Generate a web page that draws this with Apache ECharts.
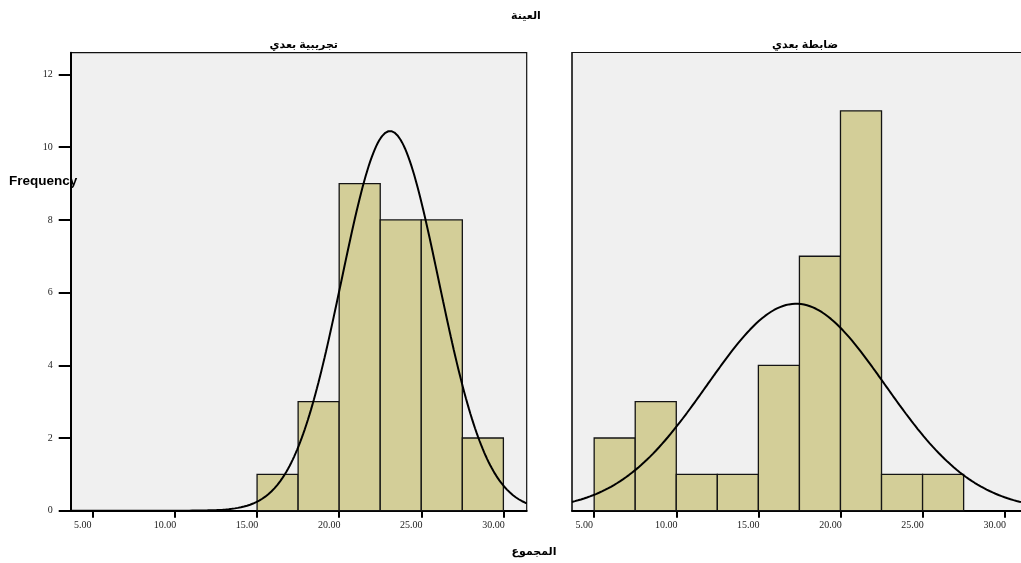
<!DOCTYPE html>
<html>
<head>
<meta charset="utf-8">
<style>
  html, body { margin: 0; padding: 0; background: #ffffff; }
  #chart { width: 1021px; height: 563px; }
</style>
<script src="https://cdn.jsdelivr.net/npm/echarts@6/dist/echarts.min.js"></script>
</head>
<body>
<div id="chart"></div>
<script>
// Histogram of المجموع for each group of العينة, with fitted normal curves.
var binWidth = 2.5;

// تجريبية بعدي
var expBinStarts = [15, 17.5, 20, 22.5, 25, 27.5];
var expCounts    = [1, 3, 9, 8, 8, 2];
var expMean = 23.1;
var expSd   = 2.96;

// ضابطة بعدي
var ctlBinStarts = [5, 7.5, 10, 12.5, 15, 17.5, 20, 22.5, 25];
var ctlCounts    = [2, 3, 1, 1, 4, 7, 11, 1, 1];
var ctlMean = 17.3;
var ctlSd   = 5.43;

var xTicks = [5, 10, 15, 20, 25, 30];
var yTicks = [0, 2, 4, 6, 8, 10, 12];
var xMin = 3.65, xMax = 31.42;
var yMax = 12.6;

var panelTitles = ['تجريبية بعدي', 'ضابطة بعدي'];
var mainTitle = 'العينة';
var xTitle = 'المجموع';
var yTitle = 'Frequency';

// Panel geometry: both panels share the same value range per pixel;
// the second panel runs off the right edge of the page.
var panelWidth = 456;
var pxPerUnit = panelWidth / (xMax - xMin);
var rightPanelLeft = 572;
var rightVisibleWidth = 1021 - rightPanelLeft;
var xMaxRight = xMin + rightVisibleWidth / pxPerUnit;

function sum(a) { return a.reduce(function (s, v) { return s + v; }, 0); }

// Normal density scaled to counts per bin over the visible range.
function normalCurve(mean, sd, n, hi) {
  var pts = [];
  var steps = 300;
  for (var i = 0; i <= steps; i++) {
    var x = xMin + (hi - xMin) * i / steps;
    var z = (x - mean) / sd;
    var y = n * binWidth / (sd * Math.sqrt(2 * Math.PI)) * Math.exp(-0.5 * z * z);
    pts.push([x, y]);
  }
  return pts;
}

function binData(starts, counts) {
  return starts.map(function (s, i) { return [s, s + binWidth, counts[i]]; });
}

function renderBin(params, api) {
  var tl = api.coord([api.value(0), api.value(2)]);
  var br = api.coord([api.value(1), 0]);
  return {
    type: 'rect',
    shape: { x: tl[0], y: tl[1], width: br[0] - tl[0], height: br[1] - tl[1] },
    style: { fill: '#d3ce98', stroke: '#141414', lineWidth: 1.3 }
  };
}

var serifFont = '"Liberation Serif", "Times New Roman", serif';
var boldSans = 'Arial, "Liberation Sans", "DejaVu Sans", sans-serif';

var grids = [
  { left: 70.7, top: 52.7, width: panelWidth, height: 458,
    show: true, backgroundColor: '#f0f0f0', borderColor: '#111', borderWidth: 1.2 },
  { left: rightPanelLeft, top: 52.7, width: rightVisibleWidth, height: 458,
    show: true, backgroundColor: '#f0f0f0', borderColor: 'transparent', borderWidth: 0 }
];

function xAxisFor(idx, hi) {
  return {
    type: 'value', gridIndex: idx, min: xMin, max: hi,
    axisLine: { show: true, onZero: false, lineStyle: { color: '#000', width: 2 } },
    axisTick: { show: true, inside: false, length: 7, customValues: xTicks,
                lineStyle: { color: '#000', width: 2 } },
    axisLabel: { show: true, customValues: xTicks, margin: 10,
                 padding: [0, 20, 0, 0], showMaxLabel: true,
                 fontFamily: serifFont, fontSize: 10, color: '#222',
                 formatter: function (v) { return v.toFixed(2); } },
    splitLine: { show: false }
  };
}

function yAxisFor(idx, showLabels) {
  return {
    type: 'value', gridIndex: idx, min: 0, max: yMax,
    axisLine: { show: true, lineStyle: { color: '#000', width: showLabels ? 2 : 1.5 } },
    axisTick: { show: showLabels, inside: false, length: 12, customValues: yTicks,
                lineStyle: { color: '#000', width: 2 } },
    axisLabel: { show: showLabels, customValues: yTicks, margin: 18,
                 fontFamily: serifFont, fontSize: 10, color: '#222' },
    splitLine: { show: false }
  };
}

// Top frame line of the second panel.
var topFrame = {
  type: 'value', gridIndex: 1, position: 'top', min: xMin, max: xMaxRight,
  axisLine: { show: true, onZero: false, lineStyle: { color: '#111', width: 1.2 } },
  axisTick: { show: false }, axisLabel: { show: false }, splitLine: { show: false }
};

var titleStyle = { fontFamily: boldSans, fontSize: 11, fontWeight: 'bold', color: '#000' };

var option = {
  animation: false,
  backgroundColor: '#ffffff',
  title: [
    { text: mainTitle, left: 521, top: 5, textAlign: 'center', textStyle: titleStyle },
    { text: panelTitles[0], left: 298.7, top: 34, textAlign: 'center', textStyle: titleStyle },
    { text: panelTitles[1], left: 800, top: 34, textAlign: 'center', textStyle: titleStyle },
    { text: xTitle, left: 529, top: 541, textAlign: 'center', textStyle: titleStyle },
    { text: yTitle, left: 4, top: 169,
      textStyle: { fontFamily: boldSans, fontSize: 13.5, fontWeight: 'bold', color: '#000' } }
  ],
  grid: grids,
  xAxis: [xAxisFor(0, xMax), xAxisFor(1, xMaxRight), topFrame],
  yAxis: [yAxisFor(0, true), yAxisFor(1, false)],
  series: [
    { type: 'custom', xAxisIndex: 0, yAxisIndex: 0, renderItem: renderBin,
      encode: { x: [0, 1], y: 2 }, data: binData(expBinStarts, expCounts), z: 2 },
    { type: 'line', xAxisIndex: 0, yAxisIndex: 0, showSymbol: false, clip: true,
      lineStyle: { color: '#000', width: 2 }, z: 3,
      data: normalCurve(expMean, expSd, sum(expCounts), xMax) },
    { type: 'custom', xAxisIndex: 1, yAxisIndex: 1, renderItem: renderBin,
      encode: { x: [0, 1], y: 2 }, data: binData(ctlBinStarts, ctlCounts), z: 2 },
    { type: 'line', xAxisIndex: 1, yAxisIndex: 1, showSymbol: false, clip: true,
      lineStyle: { color: '#000', width: 2 }, z: 3,
      data: normalCurve(ctlMean, ctlSd, sum(ctlCounts), xMaxRight) }
  ]
};

var chart = echarts.init(document.getElementById('chart'), null, { renderer: 'canvas' });
chart.setOption(option);
</script>
</body>
</html>
